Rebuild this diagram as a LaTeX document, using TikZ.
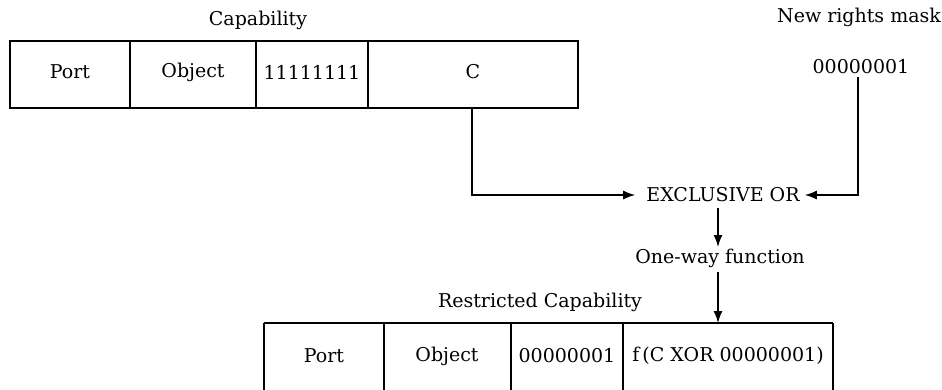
\documentclass[tikz,border=0pt]{standalone}
\usepackage{fontspec}
\setmainfont{DejaVu Serif}
\usetikzlibrary{arrows.meta}
\begin{document}
\begin{tikzpicture}[x=1pt,y=-1pt,
  lbl/.style={inner sep=0pt,font=\fontsize{19}{22}\selectfont},
  cell/.style={draw,line width=1.6pt},
  conn/.style={line width=1.4pt,-{Latex[length=12pt,width=9pt]}}]
\useasboundingbox (0,0) rectangle (942,389);
\clip (0,0) rectangle (942,389);
% top capability
\node[lbl] (cap) at (258,20) {Capability};
\draw[cell] (10,41) rectangle (578,108);
\draw[cell] (130,41) -- (130,108) (256,41) -- (256,108) (368,41) -- (368,108);
\node[lbl] (tport) at (70,72) {Port};
\node[lbl] (tobj) at (193,72) {Object};
\node[lbl] (tbits) at (312,72) {11111111};
\node[lbl] (tc) at (473,72) {C};
\coordinate (cbot) at (472,108);
% new rights mask
\node[lbl] (nrm) at (859,17) {New rights mask};
\node[lbl] (mask) at (861,67) {00000001};
% XOR
\node[lbl] (xor) at (723,195) {EXCLUSIVE OR};
\node[lbl] (owf) at (720,258) {One-way function};
\draw[conn] (cbot) |- ([xshift=-11pt]xor.west);
\draw[conn] (858,77) |- ([xshift=5pt]xor.east);
\draw[conn] (718,208) -- (718,247);
\draw[conn] (718,272) -- (718,323);
% restricted
\node[lbl] (rcap) at (540,302) {Restricted Capability};
\draw[cell] (264,323) -- (833,323);
\draw[cell] (264,323) -- (264,400) (384,323) -- (384,400) (511,323) -- (511,400) (623,323) -- (623,400) (833,323) -- (833,400);
\node[lbl] (bport) at (324,356) {Port};
\node[lbl] (bobj) at (447,356) {Object};
\node[lbl] (bbits) at (567,356) {00000001};
\node[lbl] (bf) at (728,356) {f\,(C XOR 00000001)};
\end{tikzpicture}
\end{document}
